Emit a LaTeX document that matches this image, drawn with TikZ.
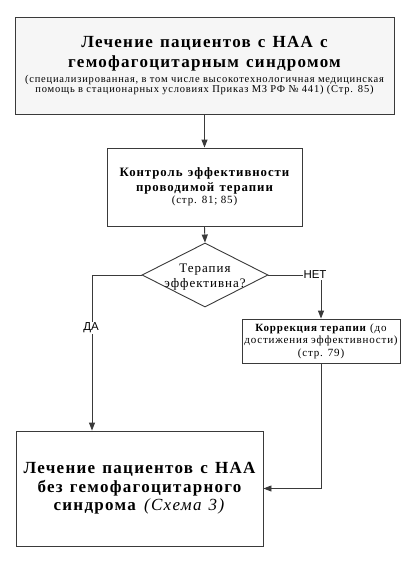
\documentclass[tikz,border=0pt]{standalone}
\usepackage{fontspec}
\setmainfont{Liberation Serif}[LetterSpace=7.5]
\newfontfamily\arialfont{Liberation Sans}
\newcommand\bsp{\bfseries\spaceskip=0.42em\relax}
\usetikzlibrary{arrows.meta,shapes.geometric}
\definecolor{linec}{HTML}{3A3A3A}
\definecolor{topfill}{HTML}{F6F6F6}
\tikzset{
  boxst/.style={draw=linec, line width=0.9pt, rectangle, inner sep=0pt, align=center},
  conn/.style={draw=linec, line width=0.9pt},
  arr/.style={conn, -{Triangle[width=6pt,length=8pt]}},
  lbl/.style={font=\arialfont\fontsize{11.5}{12}\selectfont, fill=white, inner sep=1pt}
}
\begin{document}
\begin{tikzpicture}[x=1pt,y=-1pt]
\useasboundingbox (0,0) rectangle (416,562);
\node[boxst, fill=topfill, minimum width=379pt, minimum height=97pt, text width=374pt] (top) at (204.5,65.5) {{\fontsize{17}{20}\selectfont\bsp Лечение пациентов с НАА с\\гемофагоцитарным синдромом\par}\vspace{3pt}{\fontsize{10.5}{10.5}\selectfont (специализированная, в том числе высокотехнологичная медицинская\\помощь в стационарных условиях Приказ МЗ РФ № 441) (Стр. 85)\par}};
\node[boxst, fill=white, minimum width=195pt, minimum height=78pt, text width=192pt] (ctrl) at (204.5,187) {{\fontsize{12.8}{15}\selectfont\bsp Контроль эффективности\\проводимой терапии\par}{\fontsize{11}{12}\selectfont (стр. 81; 85)\par}};
\node[draw=linec, line width=0.9pt, diamond, fill=white, minimum width=126pt, minimum height=64pt, inner sep=0pt] (dia) at (205,275) {};
\node[align=center, font=\fontsize{13}{15}\selectfont] (diat) at ([yshift=-2.5pt]dia.center) {Терапия\\эффективна?};
\node[boxst, fill=white, minimum width=158pt, minimum height=44pt, text width=157pt] (corr) at (321,341) {\fontsize{11}{12.5}\selectfont\textbf{Коррекция терапии} (до\\достижения эффективности)\\(стр. 79)\par};
\node[boxst, fill=white, minimum width=247pt, minimum height=115pt, text width=244pt] (bot) at (139.5,488.5) {\fontsize{17}{18.5}\selectfont\bsp Лечение пациентов с НАА\\без гемофагоцитарного\\синдрома \textmd{\textit{(Схема 3)}}\par};
\coordinate (daC) at (92,275);
\draw[arr] (top.south) -- (ctrl.north);
\draw[arr] (ctrl.south) -- (dia.north);
\draw[arr] (dia.west) -- (daC) -- (daC |- bot.north);
\node[lbl] (da) at (91,328) {ДА};
\draw[arr] (dia.east) -| (corr.north);
\node[lbl] (net) at (315,275) {НЕТ};
\draw[arr] (corr.south) |- (bot.east);
\end{tikzpicture}
\end{document}
